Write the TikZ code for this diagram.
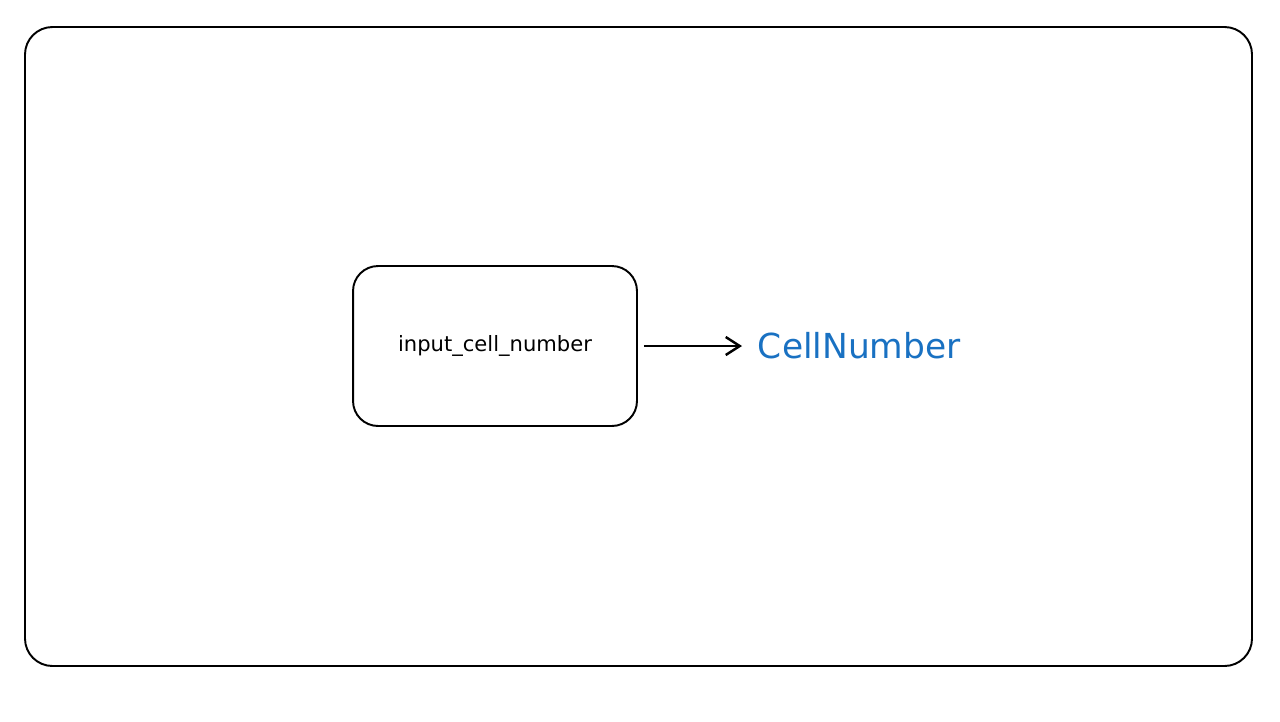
\documentclass[tikz,border=0pt]{standalone}
\usepackage{fontspec}
\setmainfont{DejaVu Sans}
\usetikzlibrary{arrows.meta,positioning}
\definecolor{exblue}{HTML}{1971C2}

\begin{document}
\begin{tikzpicture}[x=0.02cm,y=-0.02cm,line width=1.1pt]
      \tikzstyle{every node}=[inner sep=0pt]
      \tikzstyle{box}=[draw,rounded corners=0.5cm,minimum width=5.68cm,minimum height=3.2cm,font=\fontsize{12}{14}\selectfont]
      \tikzstyle{typename}=[text=exblue,inner sep=0.3cm,font=\fontsize{19.6}{22}\selectfont]
      \useasboundingbox (0,0) rectangle (1280,721);
      \draw[rounded corners=0.55cm] (25,27) rectangle (1252,666);

      \node[box] (inp) at (495,346) {input\_cell\_number};
      \node[typename,anchor=west] (cell) at (742,346) {CellNumber};

      \draw[line width=1.4pt,-{Straight Barb[length=0.28cm,width=0.36cm]}, shorten <=0.12cm] (inp) -- (cell);
\end{tikzpicture}
\end{document}
